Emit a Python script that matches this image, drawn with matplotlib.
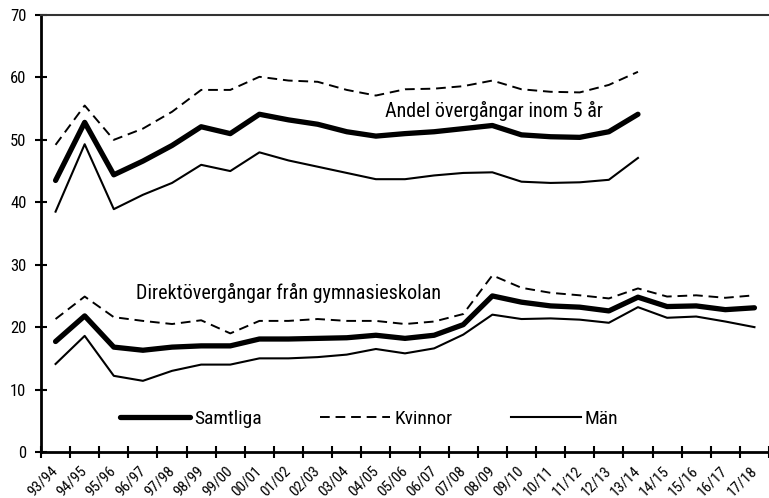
import numpy as np
import matplotlib.pyplot as plt
from matplotlib import font_manager

names = {f.name for f in font_manager.fontManager.ttflist}
prefs = [n for n in ['Roboto Condensed', 'Archivo Narrow', 'Liberation Sans Narrow'] if n in names]
plt.rcParams['font.family'] = prefs + ['DejaVu Sans']

years = ['93/94', '94/95', '95/96', '96/97', '97/98', '98/99', '99/00', '00/01',
         '01/02', '02/03', '03/04', '04/05', '05/06', '06/07', '07/08', '08/09',
         '09/10', '10/11', '11/12', '12/13', '13/14', '14/15', '15/16', '16/17', '17/18']

# andel övergångar inom 5 år (till och med 13/14)
fem_samtliga = [43.5, 52.8, 44.4, 46.6, 49.1, 52.1, 51.0, 54.1, 53.2, 52.5, 51.3,
                50.6, 51.0, 51.3, 51.8, 52.3, 50.8, 50.5, 50.4, 51.3, 54.1]
fem_kvinnor = [49.2, 55.5, 50.0, 51.8, 54.5, 58.0, 58.0, 60.1, 59.5, 59.3, 58.0,
               57.1, 58.1, 58.2, 58.6, 59.5, 58.1, 57.7, 57.6, 58.8, 60.9]
fem_man = [38.5, 49.3, 38.9, 41.2, 43.1, 46.0, 45.0, 48.0, 46.7, 45.7, 44.7,
           43.7, 43.7, 44.3, 44.7, 44.8, 43.3, 43.1, 43.2, 43.6, 47.1]

# direktövergångar från gymnasieskolan
dir_samtliga = [17.7, 21.8, 16.8, 16.3, 16.8, 17.0, 17.0, 18.1, 18.1, 18.2, 18.3,
                18.7, 18.2, 18.7, 20.4, 25.0, 24.0, 23.4, 23.2, 22.6, 24.8,
                23.3, 23.4, 22.8, 23.1]
dir_kvinnor = [21.3, 24.9, 21.6, 21.0, 20.5, 21.1, 19.0, 21.0, 21.0, 21.3, 21.0,
               21.0, 20.5, 20.9, 22.1, 28.3, 26.3, 25.5, 25.1, 24.6, 26.2,
               24.9, 25.1, 24.7, 25.1]
dir_man = [14.1, 18.6, 12.2, 11.4, 13.0, 14.0, 14.0, 15.0, 15.0, 15.2, 15.6,
           16.5, 15.8, 16.6, 18.8, 22.0, 21.3, 21.4, 21.2, 20.7, 23.2,
           21.5, 21.7, 20.9, 20.0]

x = np.arange(len(years))
x5 = x[:len(fem_samtliga)]

fig = plt.figure(figsize=(7.69, 4.98), dpi=100)
ax = fig.add_axes([41/769, 1-452/498, 728/769, 437/498])

ax.plot(x5, fem_samtliga, color='black', lw=3.8, solid_capstyle='round', label='Samtliga')
ax.plot(x5, fem_kvinnor, color='black', lw=1.4, dashes=(5, 3), label='Kvinnor')
ax.plot(x5, fem_man, color='black', lw=1.5, label='Män')
ax.plot(x, dir_samtliga, color='black', lw=3.8, solid_capstyle='round')
ax.plot(x, dir_kvinnor, color='black', lw=1.4, dashes=(5, 3))
ax.plot(x, dir_man, color='black', lw=1.5)

ax.text(11.3, 54.6, 'Andel övergångar inom 5 år', fontsize=14.5, va='center', ha='left')
ax.text(2.75, 25.5, 'Direktövergångar från gymnasieskolan', fontsize=14.5, va='center', ha='left')

ax.set_xlim(-0.5, 24.24)
ax.set_ylim(0, 70)
ax.set_yticks(np.arange(0, 71, 10))
ax.set_xticks(x)
ax.set_xticklabels(years, rotation=45, ha='right', va='center', rotation_mode='anchor')
ax.set_xticks(list(x - 0.5) + [24.5], minor=True)
ax.tick_params(axis='x', which='major', length=0, pad=12, labelsize=11)
ax.tick_params(axis='x', which='minor', direction='inout', length=9, width=1.5)
ax.tick_params(axis='y', direction='inout', length=9, width=1.5, labelsize=12, pad=6)

for s in ['left', 'bottom']:
    ax.spines[s].set_linewidth(2)
ax.spines['top'].set_linewidth(1.5)
ax.spines['top'].set_color('#333333')
ax.spines['right'].set_visible(False)

ax.legend(loc='center left', bbox_to_anchor=(0.085, 0.075), ncol=3, frameon=False,
          fontsize=14, handlelength=3.6, handletextpad=0.2, columnspacing=3.0)

fig.savefig('out.png', dpi=100)
